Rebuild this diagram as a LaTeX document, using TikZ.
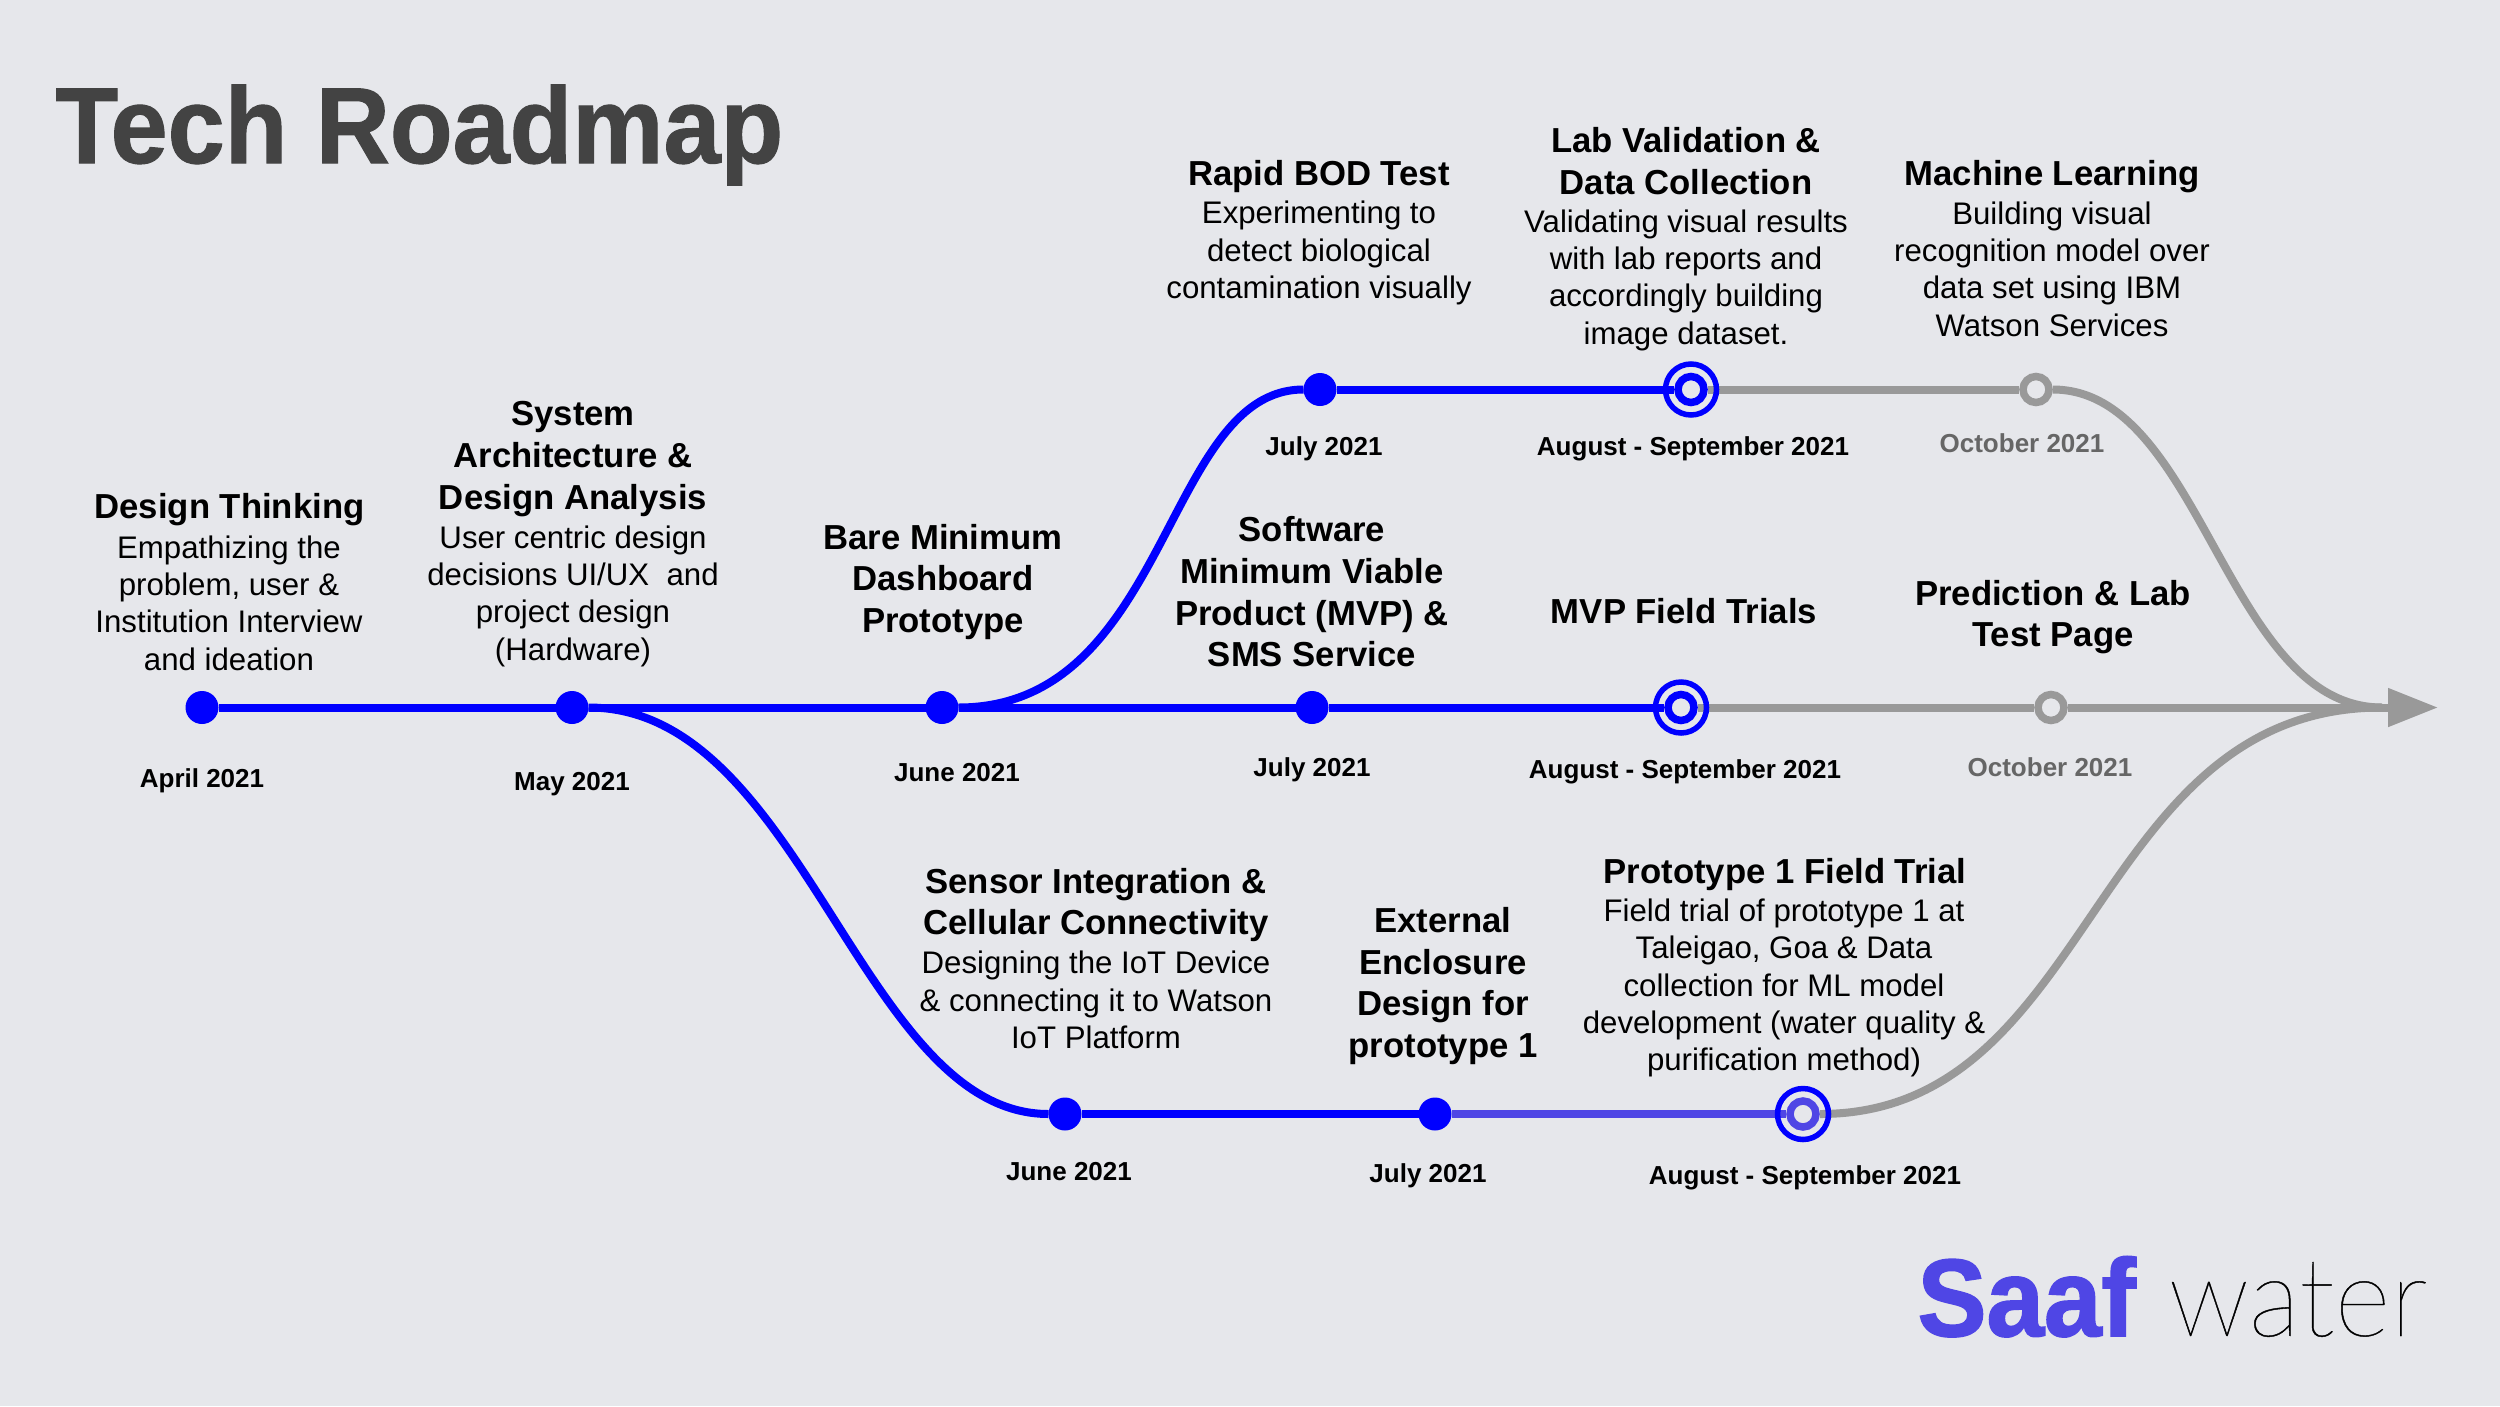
\documentclass[tikz,border=0pt]{standalone}
\usepackage{fontspec}
\setmainfont{Liberation Sans}
\newfontfamily\titlefont[FakeStretch=0.95,FakeBold=1]{Liberation Sans}
\newfontfamily\logofont[FakeStretch=0.94,FakeBold=1.5]{Liberation Sans}
\newfontfamily\thinfont[FakeStretch=0.98,FakeBold=0.4]{Lato Hairline}
\usetikzlibrary{arrows.meta}
\definecolor{pagebg}{HTML}{E6E7EB}
\definecolor{stopblue}{HTML}{0000FF}
\definecolor{indigo}{HTML}{4F46E5}
\definecolor{futuregrey}{HTML}{999999}
\definecolor{dategrey}{HTML}{666666}
\definecolor{titlegrey}{HTML}{434343}
\tikzset{
  bluedot/.style={circle,fill=stopblue,minimum size=33pt,inner sep=0pt,outer sep=0pt},
  nowstop/.style={circle,draw=stopblue,fill=pagebg,line width=7.5pt,minimum size=26pt,inner sep=0pt},
  nextstop/.style={nowstop,draw=futuregrey},
  nowring/.style={circle,draw=stopblue,line width=5.5pt,minimum size=51pt,inner sep=0pt},
  head/.style={align=center,font=\fontsize{34.7}{41.7}\selectfont\bfseries},
  body/.style={align=center,font=\fontsize{31.2}{37.3}\selectfont},
  when/.style={font=\fontsize{26}{30}\selectfont\bfseries},
  whennext/.style={when,text=dategrey},
  doneline/.style={stopblue,line width=8pt},
  nextline/.style={futuregrey,line width=8pt},
}
\begin{document}
\begin{tikzpicture}[x=1pt,y=-1pt]
  \fill[pagebg] (0,0) rectangle (2500,1406);
  \useasboundingbox (0,0) rectangle (2500,1406);
  \draw
    (202,707.5) node[bluedot] (april){}
    (572,707.5) node[bluedot] (may){}
    (942,707.5) node[bluedot] (june){}
    (1312,707.5) node[bluedot] (julymid){}
    (1681,707.5) node[nowstop] (augmid){}
    (2051,707.5) node[nextstop] (octmid){}
    (1320,389.5) node[bluedot] (julytop){}
    (1691,389.5) node[nowstop] (augtop){}
    (2036,389.5) node[nextstop] (octtop){}
    (1065,1114) node[bluedot] (junelow){}
    (1435,1114) node[bluedot] (julylow){}
    (1803,1114) node[nowstop,draw=indigo] (auglow){}
    (2382,707.5) coordinate (merge)
    (2438,707.5) coordinate (tip);
  \begin{scope}[doneline]
    \draw (april) to (may);
    \draw (may) to (june);
    \draw (june) to (julymid);
    \draw (julymid) to (augmid);
    \draw (june) .. controls +(227,0) and +(-156,0) .. (julytop);
    \draw (julytop) to (augtop);
    \draw (may) .. controls +(231,0) and +(-204,0) .. (junelow);
    \draw (junelow) to (julylow);
    \draw[indigo] (julylow) to (auglow);
  \end{scope}
  \begin{scope}[nextline]
    \draw (augtop) to (octtop);
    \draw (octtop) .. controls +(166,0) and +(-156,0) .. (merge);
    \draw (augmid) to (octmid);
    \draw (auglow) .. controls +(293,0) and +(-293,0) .. (merge);
    \draw[-{Triangle[length=50pt,width=37pt]}] (octmid) to (tip);
  \end{scope}
  \draw
    (1691,389.5) node[nowring] (augtopring){}
    (1681,707.5) node[nowring] (augmidring){}
    (1803,1114) node[nowring] (auglowring){};
  \node[anchor=base west,text=titlegrey,font=\titlefont\fontsize{108}{120}\selectfont\bfseries] (title) at (52,163) {Tech Roadmap};
  \node[anchor=base west,text=indigo,font=\logofont\fontsize{110}{120}\selectfont\bfseries] (saaf) at (1914,1336) {Saaf};
  \node[anchor=base west,text=black,font=\thinfont\fontsize{110}{120}\selectfont] (water) at (2165,1336) {water};
  \node[head] (thinkhead) at (229.5,510) {Design Thinking};
  \node[body] (thinkbody) at (229,603) {Empathizing the\\problem, user \&\\Institution Interview\\and ideation};
  \node[head] (syshead) at (573,459) {System\\Architecture \&\\Design Analysis};
  \node[body] (sysbody) at (573,596) {User centric design\\decisions UI/UX\ \ and\\project design\\(Hardware)};
  \node[head] (barehead) at (943,582) {Bare Minimum\\Dashboard\\Prototype};
  \node[head] (bodhead) at (1319,177) {Rapid BOD Test};
  \node[body] (bodbody) at (1319,253) {Experimenting to\\detect biological\\contamination visually};
  \node[head] (labhead) at (1686,161) {Lab Validation \&\\Data Collection};
  \node[body] (labbody) at (1686,280) {Validating visual results\\with lab reports and\\accordingly building\\image dataset.};
  \node[head] (mlhead) at (2052,177) {Machine Learning};
  \node[body] (mlbody) at (2052,269) {Building visual\\recognition model over\\data set using IBM\\Watson Services};
  \node[head] (softhead) at (1312,592) {Software\\Minimum Viable\\Product (MVP) \&\\SMS Service};
  \node[head] (mvphead) at (1684,611) {MVP Field Trials};
  \node[head] (predhead) at (2053,617) {Prediction \& Lab\\Test Page};
  \node[head] (sensorhead) at (1096,905) {Sensor Integration \&\\Cellular Connectivity};
  \node[body] (sensorbody) at (1096,1000) {Designing the IoT Device\\\& connecting it to Watson\\IoT Platform};
  \node[head] (enclhead) at (1443,986) {External\\Enclosure\\Design for\\prototype 1};
  \node[head] (fieldhead) at (1785,875) {Prototype 1 Field Trial};
  \node[body] (fieldbody) at (1784,988) {Field trial of prototype 1 at\\Taleigao, Goa \& Data\\collection for ML model\\development (water quality \&\\purification method)};
  \node[when] (whenapril) at (202,781) {April 2021};
  \node[when] (whenmay) at (572,784) {May 2021};
  \node[when] (whenjune) at (957,773) {June 2021};
  \node[when] (whenjulymid) at (1312,770) {July 2021};
  \node[when] (whenaugmid) at (1685,772) {August - September 2021};
  \node[whennext] (whenoctmid) at (2050,767) {October 2021};
  \node[when] (whenjulytop) at (1324,449) {July 2021};
  \node[when] (whenaugtop) at (1693,449) {August - September 2021};
  \node[whennext] (whenocttop) at (2022,443) {October 2021};
  \node[when] (whenjunelow) at (1069,1172) {June 2021};
  \node[when] (whenjulylow) at (1428,1176) {July 2021};
  \node[when] (whenauglow) at (1805,1178) {August - September 2021};
\end{tikzpicture}
\end{document}
